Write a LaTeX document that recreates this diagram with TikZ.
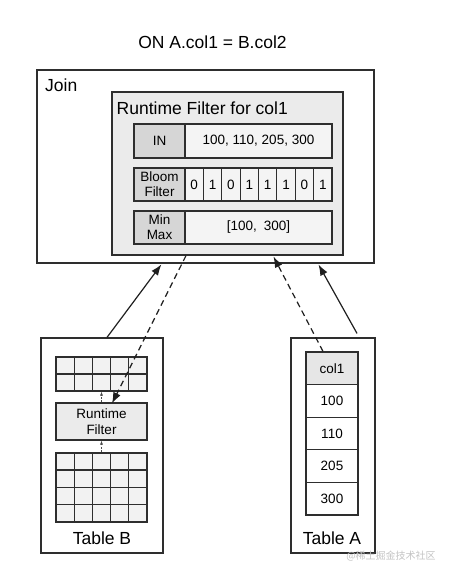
\documentclass[tikz,border=0pt]{standalone}
\usepackage{fontspec}
\setmainfont{Liberation Sans}
\newfontfamily\cjk{Noto Sans CJK SC}
\usetikzlibrary{arrows.meta,calc}
\definecolor{linec}{HTML}{2E2E2E}
\definecolor{rfbg}{HTML}{EBEBEB}
\definecolor{labbg}{HTML}{D6D6D6}
\definecolor{valbg}{HTML}{F4F4F4}
\definecolor{cellbg}{HTML}{F2F2F2}
\definecolor{hdbg}{HTML}{E6E6E6}
\definecolor{wm}{HTML}{C4C4C4}
\begin{document}
\begin{tikzpicture}[x=1pt,y=-1pt,
  box/.style={draw=linec, line width=1.2pt, inner sep=0pt},
  lab/.style={box, fill=labbg, minimum width=51, font=\fontsize{13.5}{15}\selectfont, align=center},
  val/.style={box, fill=valbg, font=\fontsize{13.5}{15}\selectfont},
  big/.style={font=\fontsize{17.5}{20}\selectfont},
  mid/.style={font=\fontsize{13.5}{16}\selectfont},
  gline/.style={draw=linec, line width=0.9pt},
  hline/.style={draw=linec, line width=1.7pt},
  arr/.style={draw=black!88, line width=1.2pt, -{Latex[length=11pt,width=8pt]}, shorten >=1pt},
  darr/.style={arr, dash pattern=on 6pt off 4pt},
  sarr/.style={draw=black!70, line width=0.6pt, dash pattern=on 2pt off 1.5pt, -{Latex[length=4pt,width=3pt]}}]
\useasboundingbox (0,0) rectangle (448,578);
\fill[white] (0,0) rectangle (448,578);

% title
\node[big] (title) at (212.5,42) {ON A.col1 = B.col2};

% Join box
\node[box, fill=white, minimum width=337, minimum height=193] (join) at (205.5,166.5) {};
\node[big, anchor=west, inner sep=0pt] (jointxt) at (45,85) {Join};

% Runtime filter
\node[box, fill=rfbg, minimum width=231, minimum height=163] (rf) at (227.5,173.5) {};
\node[big, anchor=west, inner sep=0pt] (rftitle) at (116.5,108.5) {Runtime Filter for col1};

\node[lab, minimum height=34] (inl) at (159.5,141) {IN};
\node[val, minimum width=147, minimum height=34] (inv) at (258.5,141) {100, 110, 205, 300};

\node[lab, minimum height=33] (bl) at (159.5,184.5) {Bloom\\Filter};
\foreach \b [count=\i] in {0,1,0,1,1,1,0,1}
  \node[val, minimum width=18.375, minimum height=33] (bit\i) at ({185+18.375*(\i-0.5)},184.5) {\b};

\node[lab, minimum height=33] (mm) at (159.5,227.5) {Min\\Max};
\node[val, minimum width=147, minimum height=33] (mmv) at (258.5,227.5) {[100,\enspace300]};

% Table B
\node[box, fill=white, minimum width=122, minimum height=215] (tb) at (102,445.5) {};
\node[big] (tbtxt) at (102,538) {Table B};

\node[box, fill=cellbg, minimum width=91, minimum height=34] (tg) at (101.5,374) {};
\foreach \xx in {74.2,92.4,110.6,128.8} \draw[gline] (\xx,357) -- (\xx,391);
\draw[hline] (56,374) -- (147,374);

\node[box, fill=rfbg, minimum width=91, minimum height=37, mid, align=center] (tbrf) at (101.5,421.5) {Runtime\\Filter};

\node[box, fill=cellbg, minimum width=91, minimum height=69] (bg) at (101.5,487.5) {};
\foreach \xx in {74.2,92.4,110.6,128.8} \draw[gline] (\xx,453) -- (\xx,522);
\draw[hline] (56,470.25) -- (147,470.25);
\draw[gline] (56,487.5) -- (147,487.5);
\draw[gline] (56,504.75) -- (147,504.75);

% Table A
\node[box, fill=white, minimum width=84, minimum height=215] (ta) at (333,445.5) {};
\node[big] (tatxt) at (332,538) {Table A};
\node[box, fill=hdbg, minimum width=52, minimum height=32.6, mid] (a0) at (332,368.3) {col1};
\node[box, fill=white, minimum width=52, minimum height=32.6, mid] (a1) at (332,400.9) {100};
\node[box, fill=white, minimum width=52, minimum height=32.6, mid] (a2) at (332,433.5) {110};
\node[box, fill=white, minimum width=52, minimum height=32.6, mid] (a3) at (332,466.1) {205};
\node[box, fill=white, minimum width=52, minimum height=32.6, mid] (a4) at (332,498.7) {300};

% arrows
\draw[arr] ([xshift=5]tb.north) -- ([xshift=-43.5]join.south);
\draw[arr] ([xshift=24,yshift=4]ta.north) -- ([xshift=112.5]join.south);
\draw[darr] ([xshift=-41.5]rf.south) -- ([xshift=10,yshift=-2]tbrf.north);
\draw[darr] ([xshift=-9]a0.north) -- ([xshift=45.5]rf.south);
\draw[sarr] (bg.north) -- (tbrf.south);
\draw[sarr] (tbrf.north) -- (tg.south);

% watermark
\node[font=\cjk\fontsize{10}{12}\selectfont, text=wm] (wmk) at (391,556) {@稀土掘金技术社区};
\end{tikzpicture}
\end{document}
